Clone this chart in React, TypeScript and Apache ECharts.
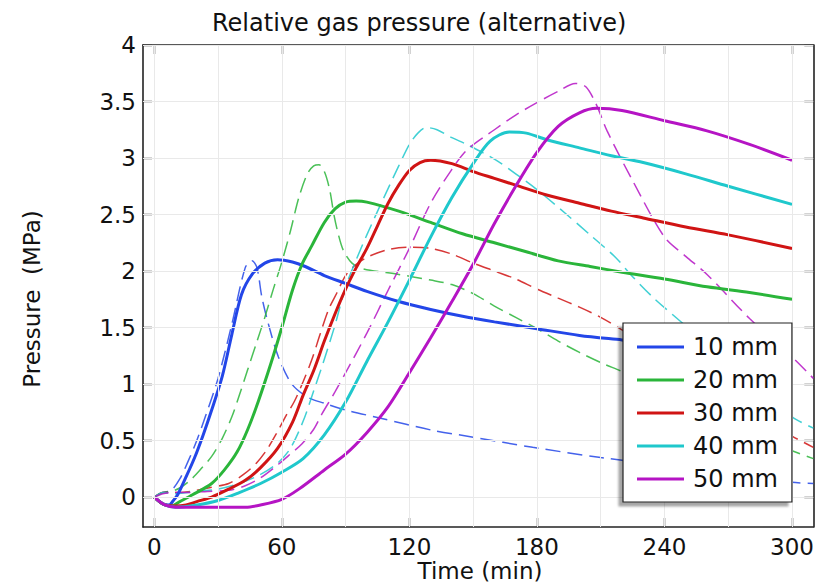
import React, { useEffect, useRef } from 'react';
import * as echarts from 'echarts';

// ---- Tick labels / grid positions ----
const xTickValues = [0, 60, 120, 180, 240, 300];
const xGridValues = [0, 30, 60, 90, 120, 150, 180, 210, 240, 270, 300];
const yTickValues = [0, 0.5, 1, 1.5, 2, 2.5, 3, 3.5, 4];

// ---- Series names and colours ----
const seriesNames = ['10 mm', '20 mm', '30 mm', '40 mm', '50 mm'];
const seriesColors = ['#2346e8', '#2ab53a', '#d01414', '#1fc8cc', '#b514c4'];

// ---- Solid curves: [time (min), pressure (MPa)] ----
const solid10 = [[0,0],[4,-0.06],[7,-0.07],[9,-0.03],[11,0.02],[15,0.18],[19,0.35],[23,0.55],[27,0.77],[32,1.07],[36.5,1.44],[41,1.79],[46,1.97],[52,2.07],[58,2.1],[65,2.08],[71,2.04],[80,1.96],[90,1.89],[100,1.82],[115,1.73],[130,1.66],[145,1.6],[160,1.55],[180,1.49],[200,1.43],[220,1.39],[240,1.35],[260,1.31],[280,1.27],[300,1.23]];
const solid20 = [[0,0],[4,-0.06],[8,-0.08],[12,-0.04],[18,0.02],[27,0.12],[33,0.24],[39,0.4],[44,0.6],[49,0.85],[55,1.19],[60,1.5],[65,1.83],[69.5,2.06],[74,2.22],[80,2.43],[85,2.55],[90,2.61],[95,2.62],[100,2.61],[115,2.53],[130,2.43],[145,2.33],[160,2.25],[175,2.17],[190,2.09],[205,2.04],[220,1.99],[240,1.93],[260,1.86],[280,1.81],[300,1.75]];
const solid30 = [[0,0],[5,-0.07],[10,-0.08],[15,-0.07],[20,-0.04],[27,0],[35,0.07],[43,0.15],[50,0.26],[58,0.43],[65,0.66],[70,0.9],[75,1.12],[80,1.38],[85,1.62],[90,1.84],[95,2.03],[100,2.2],[105,2.4],[110,2.6],[115,2.76],[120,2.89],[125,2.96],[130,2.98],[140,2.95],[150,2.88],[160,2.82],[170,2.76],[185,2.67],[200,2.6],[215,2.53],[230,2.47],[250,2.39],[270,2.32],[300,2.2]];
const solid40 = [[0,0],[5,-0.07],[10,-0.09],[20,-0.07],[30,-0.03],[40,0.04],[50,0.12],[60,0.22],[70,0.34],[80,0.55],[90,0.84],[100,1.2],[110,1.55],[120,1.92],[130,2.3],[140,2.65],[150,2.95],[158,3.15],[167,3.23],[175,3.22],[185,3.16],[200,3.09],[215,3.02],[230,2.96],[250,2.86],[270,2.75],[300,2.59]];
const solid50 = [[0,0],[5,-0.07],[10,-0.09],[20,-0.09],[43,-0.09],[50,-0.07],[60,-0.02],[68,0.07],[80,0.24],[90,0.38],[100,0.57],[110,0.8],[120,1.1],[130,1.41],[140,1.73],[150,2.06],[160,2.42],[170,2.75],[180,3.05],[190,3.28],[200,3.4],[208,3.44],[220,3.42],[240,3.33],[260,3.24],[280,3.12],[300,2.98]];

// ---- Dashed (alternative) curves ----
const dashed10 = [[0,0],[4,0.04],[8,0.06],[12,0.16],[16,0.32],[20,0.5],[24,0.71],[30,1.05],[36.5,1.53],[42.8,2.03],[46,2.09],[48.3,2.03],[50.6,1.77],[53.7,1.53],[58.4,1.24],[64.7,1.0],[72.5,0.88],[80,0.83],[90,0.77],[106,0.7],[131,0.59],[150,0.53],[178,0.44],[210,0.35],[240,0.28],[270,0.2],[300,0.13],[310,0.12]];
const dashed20 = [[0,0],[4,0.04],[8,0.05],[12,0.08],[17,0.15],[22,0.25],[27,0.36],[32,0.52],[36.5,0.71],[40,0.9],[44,1.13],[48,1.36],[52,1.59],[56,1.84],[60,2.08],[64,2.35],[68,2.65],[72,2.86],[75,2.93],[77.5,2.94],[80,2.88],[82.5,2.72],[84.5,2.5],[86.5,2.33],[89,2.18],[93,2.07],[98,2.02],[115,1.97],[130,1.92],[140,1.88],[150,1.8],[160,1.69],[170,1.59],[180,1.49],[190,1.38],[200,1.28],[210,1.19],[220,1.11],[240,0.94],[260,0.76],[280,0.58],[300,0.41],[310,0.34]];
const dashed30 = [[0,0],[4,0.04],[8,0.04],[12,0.04],[20,0.06],[28,0.09],[35,0.12],[42,0.2],[48,0.3],[53,0.42],[58,0.58],[62,0.72],[66,0.85],[70,1.02],[74,1.21],[78,1.44],[82,1.66],[86,1.81],[90,1.96],[95,2.06],[101,2.13],[110,2.19],[120,2.21],[130,2.2],[140,2.15],[150,2.07],[160,2.0],[170,1.93],[180,1.84],[190,1.76],[200,1.68],[210,1.59],[220,1.48],[240,1.25],[260,1.01],[280,0.78],[300,0.54],[310,0.44]];
const dashed40 = [[0,0],[4,0.04],[10,0.03],[20,0.05],[30,0.07],[40,0.12],[50,0.2],[58,0.3],[64,0.43],[70,0.67],[75,0.94],[80,1.22],[85,1.52],[90,1.86],[95,2.1],[100,2.32],[108,2.65],[115,2.93],[120,3.12],[124,3.22],[128,3.27],[133,3.25],[140,3.18],[147,3.12],[160,2.99],[170,2.86],[180,2.72],[194,2.5],[205,2.32],[217,2.12],[225,1.95],[235,1.76],[249,1.53],[260,1.35],[280,1.03],[300,0.71],[310,0.61]];
const dashed50 = [[0,0],[4,0.03],[8,0.04],[15,0.04],[25,0.05],[35,0.06],[42.8,0.1],[50,0.17],[58.4,0.29],[64,0.38],[69.4,0.47],[75,0.6],[79,0.74],[85,0.93],[90,1.1],[100,1.45],[110,1.83],[120,2.2],[130,2.6],[140,2.9],[147,3.07],[160,3.25],[170,3.38],[180,3.49],[190,3.59],[198,3.66],[203,3.63],[208,3.47],[213,3.24],[225,2.8],[240,2.3],[250,2.13],[260,1.97],[280,1.58],[300,1.24],[310,1.05]];

const solidData = [solid10, solid20, solid30, solid40, solid50];
const dashedData = [dashed10, dashed20, dashed30, dashed40, dashed50];

const X_MIN = -5.3;
const X_MAX = 310;
const Y_MIN = -0.265;
const Y_MAX = 4;

export default function App() {
  const ref = useRef<HTMLDivElement>(null);

  useEffect(() => {
    const chart = echarts.init(ref.current as HTMLDivElement, null, { renderer: 'svg' });
    const font = 'DejaVu Sans';
    const frameLine = { show: true, onZero: false, lineStyle: { color: '#222', width: 1.6 } };
    const tickStyle = { color: '#222', width: 1.4 };

    const dashedSeries = dashedData.map((d, i) => ({
      type: 'line',
      name: seriesNames[i] + ' (alt)',
      data: d,
      xAxisIndex: 0,
      yAxisIndex: 0,
      showSymbol: false,
      symbol: 'none',
      smooth: 0.3,
      color: seriesColors[i],
      lineStyle: { width: 1.5, type: [15, 7], color: seriesColors[i], opacity: 0.85 },
      z: 2,
    }));
    const solidSeries = solidData.map((d, i) => ({
      type: 'line',
      name: seriesNames[i],
      data: d,
      xAxisIndex: 0,
      yAxisIndex: 0,
      showSymbol: false,
      symbol: 'none',
      smooth: 0.3,
      color: seriesColors[i],
      lineStyle: { width: 3, color: seriesColors[i] },
      z: 3,
    }));

    chart.setOption({
      animation: false,
      backgroundColor: '#fff',
      title: {
        text: 'Relative gas pressure (alternative)',
        left: 207,
        top: 6,
        textStyle: { fontFamily: font, fontSize: 24, fontWeight: 'normal', color: '#111' },
      },
      grid: { left: 143, right: 3, top: 45, bottom: 57, containLabel: false },
      xAxis: [
        {
          type: 'value', position: 'bottom', min: X_MIN, max: X_MAX,
          axisLine: frameLine,
          axisTick: { show: true, inside: true, length: 9, lineStyle: tickStyle, customValues: xTickValues },
          axisLabel: { show: true, customValues: xTickValues, margin: 8, fontFamily: font, fontSize: 23, color: '#111' },
          splitLine: { show: false },
        },
        {
          type: 'value', position: 'top', min: X_MIN, max: X_MAX,
          axisLine: frameLine,
          axisTick: { show: true, inside: true, length: 9, lineStyle: tickStyle, customValues: xTickValues },
          axisLabel: { show: false },
          splitLine: { show: false },
        },
      ],
      yAxis: [
        {
          type: 'value', position: 'left', min: Y_MIN, max: Y_MAX,
          axisLine: frameLine,
          axisTick: { show: true, inside: true, length: 9, lineStyle: tickStyle, customValues: yTickValues },
          axisLabel: { show: true, customValues: yTickValues, margin: 7, fontFamily: font, fontSize: 23, color: '#111' },
          splitLine: { show: false },
        },
        {
          type: 'value', position: 'right', min: Y_MIN, max: Y_MAX,
          axisLine: frameLine,
          axisTick: { show: true, inside: true, length: 9, lineStyle: tickStyle, customValues: yTickValues },
          axisLabel: { show: false },
          splitLine: { show: false },
        },
      ],
      legend: {
        orient: 'vertical',
        left: 623,
        top: 323,
        padding: [12, 14, 11, 14],
        itemWidth: 47,
        itemHeight: 3,
        itemGap: 9,
        selectedMode: false,
        backgroundColor: '#fff',
        borderColor: '#222',
        borderWidth: 1.2,
        borderRadius: 0,
        shadowColor: 'rgba(0,0,0,0.35)',
        shadowBlur: 2,
        shadowOffsetX: -4,
        shadowOffsetY: 4,
        textStyle: { fontFamily: font, fontSize: 24, lineHeight: 24, color: '#111', padding: [0, 0, 0, 4] },
        data: seriesNames.map((n) => ({ name: n, icon: 'rect' })),
        z: 10,
      },
      graphic: [
        {
          type: 'text', x: 32, y: 299, rotation: Math.PI / 2,
          style: { text: 'Pressure  (MPa)', fontFamily: font, fontSize: 23, fill: '#111', align: 'center', verticalAlign: 'middle' },
        },
        {
          type: 'text', x: 480, y: 571,
          style: { text: 'Time (min)', fontFamily: font, fontSize: 23, fill: '#111', align: 'center', verticalAlign: 'middle' },
        },
      ],
      series: [
        {
          type: 'line',
          name: 'grid',
          data: [],
          xAxisIndex: 0,
          yAxisIndex: 0,
          silent: true,
          z: 1,
          markLine: {
            silent: true,
            symbol: ['none', 'none'],
            label: { show: false },
            lineStyle: { color: '#e9e9e9', width: 1, type: 'solid' },
            emphasis: { disabled: true },
            data: [
              ...xGridValues.map((v) => ({ xAxis: v })),
              ...yTickValues.map((v) => ({ yAxis: v })),
            ],
          },
        },
        ...dashedSeries,
        ...solidSeries,
      ],
    });
    return () => chart.dispose();
  }, []);

  return (
    <div
      ref={ref}
      style={{ position: 'fixed', left: 0, top: 0, width: 817, height: 584, background: '#fff' }}
    />
  );
}
